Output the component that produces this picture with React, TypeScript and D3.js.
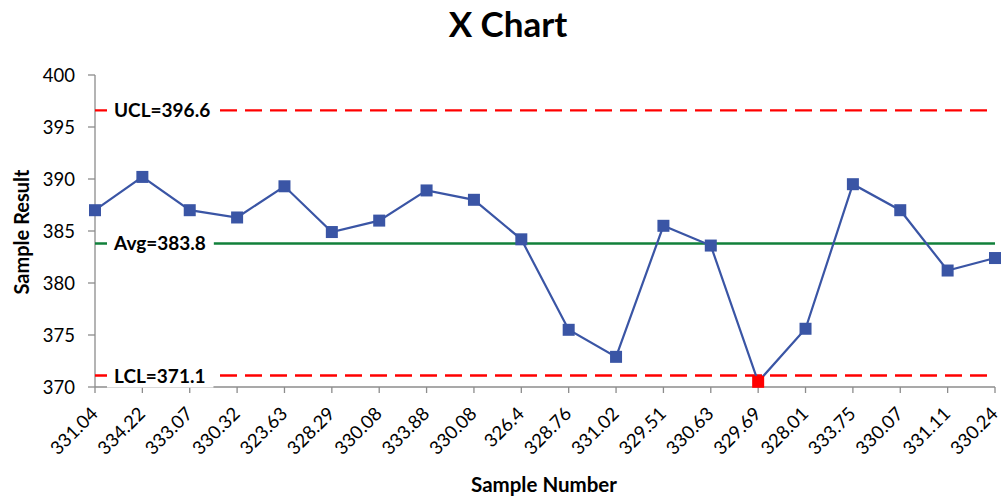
import React, { useEffect, useRef } from "react";
import * as d3 from "d3";

const sampleNumbers = [
  "331.04", "334.22", "333.07", "330.32", "323.63", "328.29", "330.08", "333.88", "330.08", "326.4",
  "328.76", "331.02", "329.51", "330.63", "329.69", "328.01", "333.75", "330.07", "331.11", "330.24",
];
const sampleResults = [
  387.0, 390.2, 387.0, 386.3, 389.3, 384.9, 386.0, 388.9, 388.0, 384.2,
  375.5, 372.9, 385.5, 383.6, 370.5, 375.6, 389.5, 387.0, 381.2, 382.4,
];
const yTicks = [370, 375, 380, 385, 390, 395, 400];
const UCL = 396.6;
const AVG = 383.8;
const LCL = 371.1;
const limitLabels = [
  { value: UCL, text: "UCL=396.6", kind: "ucl" },
  { value: AVG, text: "Avg=383.8", kind: "avg" },
  { value: LCL, text: "LCL=371.1", kind: "lcl" },
];

const W = 1007;
const H = 499;
const FONT = "Lato, 'Open Sans', sans-serif";

export default function App() {
  const ref = useRef<SVGSVGElement | null>(null);

  useEffect(() => {
    const svg = d3.select(ref.current);
    svg.selectAll("*").remove();

    const left = 95, right = 995, top = 75, bottom = 387;
    const x = d3.scalePoint<number>().domain(d3.range(sampleResults.length)).range([left, right]);
    const y = d3.scaleLinear().domain([370, 400]).range([bottom, top]);

    svg.append("rect").attr("width", W).attr("height", H).attr("fill", "#fff");

    // Title
    svg.append("text").attr("x", 508).attr("y", 37).attr("text-anchor", "middle")
      .attr("font-family", FONT).attr("font-weight", 700).attr("font-size", 35).attr("fill", "#000")
      .text("X Chart");

    // Y axis
    const axisColor = "#8c8c8c";
    svg.append("line").attr("x1", left).attr("x2", left).attr("y1", top).attr("y2", bottom)
      .attr("stroke", axisColor).attr("stroke-width", 1.3);
    yTicks.forEach((t) => {
      svg.append("line").attr("x1", left - 7).attr("x2", left).attr("y1", y(t)).attr("y2", y(t))
        .attr("stroke", axisColor).attr("stroke-width", 1.3);
      svg.append("text").attr("x", 75).attr("y", y(t)).attr("dy", "0.36em").attr("text-anchor", "end")
        .attr("font-family", FONT).attr("font-size", 18.5).attr("fill", "#000").text(String(t));
    });

    // X axis
    svg.append("line").attr("x1", left).attr("x2", right).attr("y1", bottom).attr("y2", bottom)
      .attr("stroke", axisColor).attr("stroke-width", 1.6);
    sampleNumbers.forEach((s, i) => {
      const xi = x(i) as number;
      svg.append("line").attr("x1", xi).attr("x2", xi).attr("y1", bottom).attr("y2", bottom + 6)
        .attr("stroke", axisColor).attr("stroke-width", 1.3);
      svg.append("text").attr("transform", `translate(${xi + 4},${415}) rotate(-45)`)
        .attr("text-anchor", "end").attr("font-family", FONT).attr("font-size", 18.5).attr("fill", "#000")
        .text(s);
    });

    // Axis titles
    svg.append("text").attr("x", 544).attr("y", 492).attr("text-anchor", "middle")
      .attr("font-family", FONT).attr("font-weight", 700).attr("font-size", 20.5).attr("fill", "#000")
      .text("Sample Number");
    svg.append("text").attr("transform", `translate(29,232) rotate(-90)`).attr("text-anchor", "middle")
      .attr("font-family", FONT).attr("font-weight", 700).attr("font-size", 20).attr("fill", "#000")
      .text("Sample Result");

    // Limit lines
    limitLabels.forEach((l) => {
      const yy = y(l.value);
      const ln = svg.append("line").attr("x1", left).attr("x2", right).attr("y1", yy).attr("y2", yy)
        .attr("stroke-width", 2.4);
      if (l.kind === "avg") ln.attr("stroke", "#11803a");
      else ln.attr("stroke", "#ff0000").attr("stroke-dasharray", "17 8");
    });

    // Series
    const lineGen = d3.line<number>().x((_, i) => x(i) as number).y((d) => y(d));
    svg.append("path").datum(sampleResults).attr("d", lineGen).attr("fill", "none")
      .attr("stroke", "#3a55a5").attr("stroke-width", 2.2);
    const ms = 12;
    sampleResults.forEach((v, i) => {
      const out = v < LCL || v > UCL;
      svg.append("rect").attr("x", (x(i) as number) - ms / 2).attr("y", y(v) - ms / 2)
        .attr("width", ms).attr("height", ms).attr("fill", out ? "#ff0000" : "#3a55a5");
    });

    // Limit labels with white background
    limitLabels.forEach((l) => {
      const yy = y(l.value);
      const g = svg.append("g");
      const bg = g.append("rect").attr("fill", "#fff");
      const t = g.append("text").attr("x", 114).attr("y", yy + 7).attr("font-family", FONT)
        .attr("font-weight", 700).attr("font-size", 19).attr("fill", "#000").text(l.text);
      const bb = (t.node() as SVGTextElement).getBBox();
      bg.attr("x", 107).attr("y", yy - 12).attr("width", bb.x + bb.width + 8 - 107).attr("height", 24);
    });
  }, []);

  return (
    <svg ref={ref} width={W} height={H} style={{ position: "absolute", left: 0, top: 0, display: "block" }} />
  );
}
